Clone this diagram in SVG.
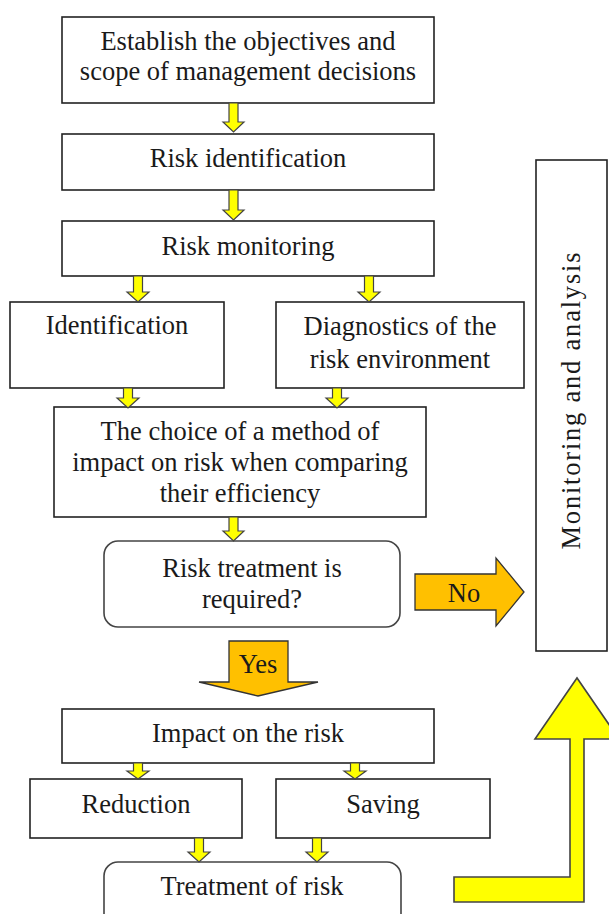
<svg xmlns="http://www.w3.org/2000/svg" width="609" height="914" viewBox="0 0 609 914">
<style>
.box{fill:#fff;stroke:#222;stroke-width:1.6}
.rbox{fill:#fff;stroke:#444;stroke-width:1.6}
.t{font-family:"Liberation Serif","Times New Roman",serif;font-size:26.5px;fill:#1a1a1a;text-anchor:middle}
.ya{fill:#ffff00;stroke:#444;stroke-width:1.2;stroke-linejoin:miter}
.oa{fill:#ffc000;stroke:#333;stroke-width:1.3}
.big{fill:#ffff00;stroke:#444;stroke-width:1.6}
</style>
<rect width="609" height="914" fill="#fff"/>
<g id="n-establish"><rect class="box" x="62" y="17" width="372" height="86"/>
<text class="t" x="248" y="50">Establish the objectives and</text>
<text class="t" x="248" y="80">scope of management decisions</text></g>
<g id="n-riskid"><rect class="box" x="62" y="134" width="372" height="56"/>
<text class="t" x="248" y="167">Risk identification</text></g>
<g id="n-riskmon"><rect class="box" x="62" y="221" width="372" height="55"/>
<text class="t" x="248" y="255">Risk monitoring</text></g>
<g id="n-ident"><rect class="box" x="10" y="302" width="214" height="86"/>
<text class="t" x="117" y="334">Identification</text></g>
<g id="n-diag"><rect class="box" x="276" y="302" width="248" height="86"/>
<text class="t" x="400" y="335">Diagnostics of the</text>
<text class="t" x="400" y="368">risk environment</text></g>
<g id="n-choice"><rect class="box" x="54" y="407" width="372" height="110"/>
<text class="t" x="240" y="440">The choice of a method of</text>
<text class="t" x="240" y="471">impact on risk when comparing</text>
<text class="t" x="240" y="502">their efficiency</text></g>
<g id="n-decision"><rect class="rbox" x="104" y="541" width="296" height="86" rx="14"/>
<text class="t" x="252" y="577">Risk treatment is</text>
<text class="t" x="252" y="608">required?</text></g>
<g id="n-monitor"><rect class="box" x="536" y="160" width="71" height="491"/>
<text class="t" transform="translate(580,401) rotate(-90)" x="0" y="0" textLength="297" lengthAdjust="spacing">Monitoring and analysis</text></g>
<g id="n-impact"><rect class="box" x="62" y="709" width="372" height="54"/>
<text class="t" x="248" y="742">Impact on the risk</text></g>
<g id="n-reduction"><rect class="box" x="30" y="779" width="212" height="59"/>
<text class="t" x="136" y="813">Reduction</text></g>
<g id="n-saving"><rect class="box" x="276" y="779" width="214" height="59"/>
<text class="t" x="383" y="813">Saving</text></g>
<g id="n-treatment"><rect class="rbox" x="104" y="862" width="297" height="70" rx="14"/>
<text class="t" x="252" y="895">Treatment of risk</text></g>
<g id="connectors">
<polygon class="ya" points="229,103 238,103 238,122 244,122 233.5,132 223,122 229,122"/>
<polygon class="ya" points="229,190 238,190 238,210 244,210 233.5,220 223,210 229,210"/>
<polygon class="ya" points="133.5,276 142.5,276 142.5,292 149,292 138,302 127,292 133.5,292"/>
<polygon class="ya" points="364.5,276 373.5,276 373.5,292 380,292 369,302 358,292 364.5,292"/>
<polygon class="ya" points="123.5,388 132.5,388 132.5,398 139,398 128,408 117,398 123.5,398"/>
<polygon class="ya" points="332.5,388 341.5,388 341.5,398 348,398 337,408 326,398 332.5,398"/>
<polygon class="ya" points="229,517 238,517 238,531 244,531 233.5,541 223,531 229,531"/>
<polygon class="ya" points="133.5,763 142.5,763 142.5,771 149,771 138,779 127,771 133.5,771"/>
<polygon class="ya" points="350.5,763 359.5,763 359.5,771 366,771 355,779 344,771 350.5,771"/>
<polygon class="ya" points="194.5,838 203.5,838 203.5,852 210,852 199,862 188,852 194.5,852"/>
<polygon class="ya" points="312.5,838 321.5,838 321.5,852 328,852 317,862 306,852 312.5,852"/>
<g id="c-no"><polygon class="oa" points="415,574 496,574 496,558 524,592 496,626 496,610 415,610"/>
<text class="t" x="464" y="602">No</text></g>
<g id="c-yes"><polygon class="oa" points="229,641 288,641 288,682 318,682 258,696 199,682 229,682"/>
<text class="t" x="258" y="673">Yes</text></g>
<polygon class="big" points="454,877 570,877 570,739 535,739 577,678 619,739 584,739 584,902 454,902"/>
</g>
</svg>
